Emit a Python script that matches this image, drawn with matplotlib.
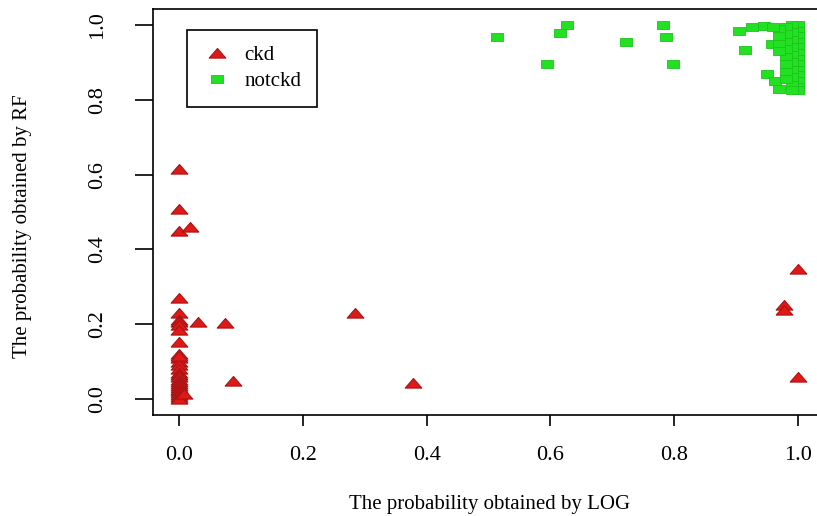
import numpy as np
import matplotlib
matplotlib.use('Agg')
import matplotlib.pyplot as plt
from matplotlib.path import Path

plt.rcParams['font.family'] = ['Liberation Serif', 'DejaVu Serif']

# ckd samples: (LOG prob, RF prob)
ckd_log = [0.0, 0.0, 0.0, 0.0, 0.0, 0.0, 0.0, 0.0, 0.0, 0.0,
           0.0, 0.0, 0.0, 0.0, 0.0, 0.0, 0.0, 0.0, 0.0, 0.0,
           0.0, 0.0, 0.0, 0.0, 0.0, 0.0, 0.0, 0.0, 0.0, 0.0,
           0.018, 0.031, 0.074, 0.087, 0.284, 0.378, 0.008,
           1.0, 0.977, 0.977, 1.0]
ckd_rf = [0.616, 0.509, 0.45, 0.27, 0.229, 0.21, 0.205, 0.197, 0.184, 0.152,
          0.12, 0.11, 0.10, 0.09, 0.08, 0.07, 0.065, 0.06, 0.05, 0.045,
          0.04, 0.035, 0.03, 0.025, 0.02, 0.015, 0.01, 0.005, 0.0, 0.115,
          0.459, 0.205, 0.203, 0.048, 0.229, 0.043, 0.012,
          0.347, 0.252, 0.237, 0.059]

# notckd samples
notckd_log = [0.514, 0.594, 0.616, 0.627, 0.722, 0.782, 0.787, 0.798,
              0.905, 0.925, 0.945, 0.914, 0.958, 0.95, 0.963, 0.97,
              1.0, 1.0, 1.0, 1.0, 1.0, 1.0, 1.0, 1.0, 1.0, 1.0, 1.0, 1.0, 1.0,
              0.99, 0.99, 0.99, 0.99, 0.99, 0.99, 0.99, 0.99, 0.99, 0.99,
              0.98, 0.98, 0.98, 0.98, 0.98, 0.98, 0.98, 0.98,
              0.97, 0.97, 0.97, 0.97, 0.96]
notckd_rf = [0.968, 0.896, 0.979, 1.0, 0.955, 1.0, 0.968, 0.896,
             0.985, 0.995, 0.998, 0.933, 0.949, 0.869, 0.85, 0.83,
             1.0, 0.985, 0.97, 0.955, 0.94, 0.925, 0.91, 0.895, 0.88, 0.865, 0.85, 0.835, 0.825,
             1.0, 0.98, 0.96, 0.94, 0.92, 0.9, 0.88, 0.86, 0.84, 0.826,
             0.995, 0.975, 0.955, 0.935, 0.915, 0.895, 0.875, 0.855,
             0.99, 0.97, 0.95, 0.93, 0.995]

xticks = [0.0, 0.2, 0.4, 0.6, 0.8, 1.0]
yticks = [0.0, 0.2, 0.4, 0.6, 0.8, 1.0]

# markers look stretched sideways in the original
tri = Path([(-1, -0.55), (1, -0.55), (0, 0.6), (-1, -0.55)], closed=True)
rect = Path([(-1, -0.68), (1, -0.68), (1, 0.68), (-1, 0.68), (-1, -0.68)], closed=True)

fig = plt.figure(figsize=(8.17, 5.16), dpi=100)
# the box runs past the right edge of the picture, as in the original
ax_w = 0.9
ax = fig.add_axes([153 / 817, 0.1957, ax_w, 0.787])

ax.plot(ckd_log, ckd_rf, linestyle='none', marker=tri, markersize=12,
        markerfacecolor='#e01818', markeredgecolor='#a81414', markeredgewidth=0.8, label='ckd')
ax.plot(notckd_log, notckd_rf, linestyle='none', marker=rect, markersize=9,
        markerfacecolor='#22e022', markeredgecolor='#1cc41c', markeredgewidth=0.6, label='notckd')

ax_px = ax_w * 817
ax.set_xlim(-0.042, -0.042 + ax_px / 619)
ax.set_ylim(-0.043, 1.043)
ax.set_xticks(xticks)
ax.set_yticks(yticks)
ax.set_xticklabels(['%.1f' % v for v in xticks], fontsize=16)
ax.set_yticklabels(['%.1f' % v for v in yticks], fontsize=16, rotation=90, va='center')
ax.tick_params(axis='x', direction='out', length=8, width=1.2, pad=14)
ax.tick_params(axis='y', direction='out', length=13, width=1.2, pad=20)
for s in ax.spines.values():
    s.set_linewidth(1.2)
    s.set_color('black')
ax.spines['right'].set_visible(False)

ax.set_xlabel('The probability obtained by LOG', fontsize=15)
ax.set_ylabel('The probability obtained by RF', fontsize=15)
ax.xaxis.set_label_coords((490 - 153) / ax_px, -0.197)
ax.yaxis.set_label_coords((32 - 153) / ax_px, 0.466)

leg = ax.legend(loc='upper left', bbox_to_anchor=(34 / ax_px, 0.948), fontsize=15,
                frameon=True, fancybox=False, edgecolor='black', framealpha=1,
                borderpad=0.75, labelspacing=0.3, handletextpad=0.6, handlelength=1.4,
                borderaxespad=0)
leg.get_frame().set_linewidth(1.2)

plt.savefig('out.png', dpi=100)
